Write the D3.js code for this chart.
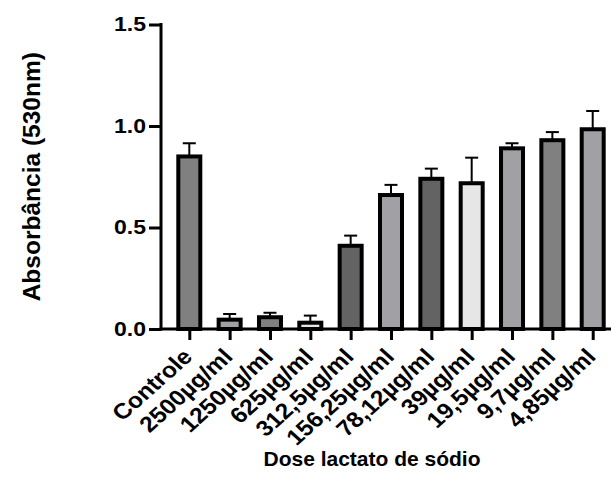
<!DOCTYPE html>
<head>
  <meta charset="utf-8">
  <script src="https://cdnjs.cloudflare.com/ajax/libs/d3/7.8.5/d3.min.js"></script>
</head>

<style>
  body { margin: 0; background: #fff; }
  text { font-family: "Liberation Sans", Arial, sans-serif; font-weight: bold; fill: #000; }
  .axis path, .axis line { stroke: #000; stroke-width: 3; }
  .x_axis text { font-size: 22px; }
  .y_axis text { font-size: 20px; }
  .bar { stroke: #000; stroke-width: 4; }
  .err { stroke: #000; stroke-width: 2; fill: none; }
</style>

<body>
  <svg width="611" height="493" class="chart"></svg>

  <script>
  // dose groups
  let groups = ["Controle", "2500µg/ml", "1250µg/ml", "625µg/ml", "312,5µg/ml", "156,25µg/ml",
                "78,12µg/ml", "39µg/ml", "19,5µg/ml", "9,7µg/ml", "4,85µg/ml"];
  // mean absorbance
  let means = [0.85, 0.046, 0.058, 0.031, 0.41, 0.66, 0.74, 0.718, 0.89, 0.93, 0.984];
  // upper error (SD)
  let errs = [0.065, 0.028, 0.022, 0.035, 0.05, 0.05, 0.05, 0.126, 0.025, 0.04, 0.09];
  let fills = ["#808080", "#a1a1a5", "#808080", "#e6e6e6", "#636363", "#a1a1a5",
               "#636363", "#e6e6e6", "#a1a1a5", "#808080", "#a1a1a5"];
  let yTicks = [0, 0.5, 1.0, 1.5];

  let svg = d3.select(".chart");

  let plotL = 161, plotR = 611, plotT = 24.5, plotB = 329;

  let x = d3.scalePoint().domain(groups).range([189.3, 592.7]);
  let y = d3.scaleLinear().domain([0, 1.5]).range([plotB, plotT]);
  let barW = 22, capW = 13;

  let data = groups.map(function(g, i) {
    return {name: g, mean: means[i], err: errs[i], fill: fills[i]};
  });

  // error bars (upper only), drawn under bars
  let eb = svg.append("g").selectAll("g")
    .data(data)
    .enter().append("g");
  eb.append("line")
    .attr("class", "err")
    .attr("x1", function(d) { return x(d.name); })
    .attr("x2", function(d) { return x(d.name); })
    .attr("y1", function(d) { return y(d.mean); })
    .attr("y2", function(d) { return y(d.mean + d.err); });
  eb.append("line")
    .attr("class", "err")
    .attr("x1", function(d) { return x(d.name) - capW / 2; })
    .attr("x2", function(d) { return x(d.name) + capW / 2; })
    .attr("y1", function(d) { return y(d.mean + d.err); })
    .attr("y2", function(d) { return y(d.mean + d.err); });

  svg.append("g").selectAll("rect")
    .data(data)
    .enter().append("rect")
      .attr("class", "bar")
      .attr("x", function(d) { return x(d.name) - barW / 2; })
      .attr("y", function(d) { return y(d.mean); })
      .attr("width", barW)
      .attr("height", function(d) { return plotB - y(d.mean); })
      .attr("fill", function(d) { return d.fill; });

  // x axis
  let xAxis = svg.append("g")
    .attr("class", "axis x_axis")
    .attr("transform", "translate(0," + plotB + ")")
    .call(d3.axisBottom(x).tickSize(11).tickSizeOuter(0));
  xAxis.select(".domain").attr("d", "M" + (plotL - 1.5) + ",0H" + plotR);
  xAxis.selectAll(".tick text")
    .attr("text-anchor", "end")
    .attr("x", 0).attr("y", 0).attr("dy", 0)
    .attr("transform", "translate(4,29) scale(1.12,1) rotate(-45)");

  // y axis
  let yAxis = svg.append("g")
    .attr("class", "axis y_axis")
    .attr("transform", "translate(" + plotL + ",0)")
    .call(d3.axisLeft(y).tickValues(yTicks).tickFormat(d3.format(".1f")).tickSize(12).tickSizeOuter(0));
  yAxis.select(".domain").attr("d", "M0," + (plotT - 1.5) + "V" + (plotB + 1.5));
  yAxis.selectAll(".tick text")
    .attr("x", 0)
    .attr("transform", "translate(-15,0) scale(1.15,1)");

  svg.append("text")
    .attr("transform", "translate(40," + ((plotT + plotB) / 2) + ") rotate(-90)")
    .attr("text-anchor", "middle")
    .style("font-size", "24.5px")
    .text("Absorbância (530nm)");

  svg.append("text")
    .attr("x", 372)
    .attr("y", 466)
    .attr("text-anchor", "middle")
    .style("font-size", "21px")
    .text("Dose lactato de sódio");
  </script>
</body>
</html>
